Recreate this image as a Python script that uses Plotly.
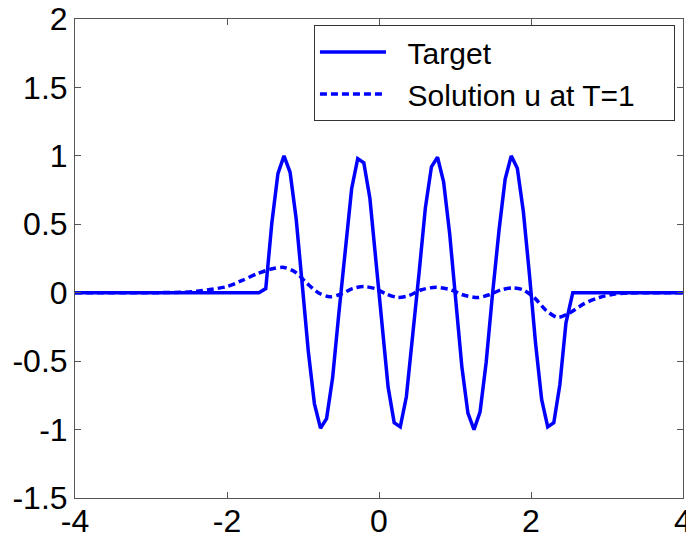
import plotly.graph_objects as go

target_x = [-4.0, -1.58, -1.49, -1.41, -1.33, -1.25, -1.17, -1.09, -1.01, -0.93, -0.85,
            -0.77, -0.69, -0.61, -0.53, -0.44, -0.36, -0.28, -0.20, -0.12, -0.04,
            0.04, 0.12, 0.20, 0.28, 0.36, 0.44, 0.53, 0.61, 0.69, 0.77, 0.85, 0.93,
            1.01, 1.09, 1.17, 1.25, 1.33, 1.41, 1.49, 1.58, 1.66, 1.74, 1.82, 1.90,
            1.98, 2.06, 2.14, 2.22, 2.30, 2.38, 2.46, 2.55, 4.0]
target_y = [0.0, 0.0, 0.03, 0.51, 0.87, 1.00, 0.88, 0.54, 0.06, -0.43, -0.81,
            -0.99, -0.92, -0.62, -0.16, 0.34, 0.76, 0.98, 0.95, 0.69, 0.25,
            -0.25, -0.69, -0.95, -0.98, -0.76, -0.34, 0.16, 0.62, 0.92, 0.99, 0.81, 0.43,
            -0.06, -0.54, -0.88, -1.00, -0.87, -0.51, -0.03, 0.46, 0.83, 1.00, 0.91, 0.59,
            0.13, -0.37, -0.78, -0.98, -0.95, -0.67, -0.22, 0.0, 0.0]

# Solution u at T=1
sol_x = [-4.0, -3.0, -2.6, -2.4, -2.2, -2.0, -1.8, -1.6, -1.4, -1.25, -1.1, -0.95,
         -0.8, -0.65, -0.5, -0.35, -0.2, -0.05, 0.1, 0.25, 0.4, 0.55, 0.75, 0.95,
         1.1, 1.3, 1.45, 1.6, 1.75, 1.9, 2.05, 2.2, 2.35, 2.5, 2.7, 2.9, 3.1, 3.3, 3.5, 4.0]
sol_y = [0.0, 0.0, 0.003, 0.01, 0.025, 0.045, 0.09, 0.14, 0.175, 0.185, 0.15, 0.07,
         0.0, -0.03, -0.01, 0.03, 0.045, 0.03, -0.01, -0.035, -0.02, 0.02, 0.04, 0.02,
         -0.015, -0.035, -0.015, 0.02, 0.035, 0.02, -0.04, -0.13, -0.18, -0.15, -0.08,
         -0.035, -0.01, -0.002, 0.0, 0.0]

x_ticks = [-4, -2, 0, 2, 4]
x_labels = ["-4", "-2", "0", "2", "4"]
y_ticks = [-1.5, -1, -0.5, 0, 0.5, 1, 1.5, 2]
y_labels = ["-1.5", "-1", "-0.5", "0", "0.5", "1", "1.5", "2"]

BLUE = "#0000FF"
FONT = "Liberation Sans, Arial, Helvetica, sans-serif"
AXC = "#555555"
NB = "\u00a0"

fig = go.Figure()
fig.add_trace(go.Scatter(x=target_x, y=target_y, mode="lines", name=NB * 2 + "Target",
                         line=dict(color=BLUE, width=3.5)))
fig.add_trace(go.Scatter(x=sol_x, y=sol_y, mode="lines",
                         name=NB * 2 + "Solution u at T=1" + NB * 4,
                         line=dict(color=BLUE, width=3.5, dash="7px,4px", shape="spline",
                                   smoothing=0.8)))

axis_common = dict(showgrid=False, zeroline=False, showline=True, linecolor=AXC,
                   linewidth=1, mirror="ticks", ticks="inside", ticklen=6,
                   tickcolor=AXC, automargin=False, ticklabeloverflow="allow",
                   tickfont=dict(family=FONT, size=32, color="black"))

fig.update_xaxes(range=[-4, 4], tickvals=x_ticks, ticktext=x_labels,
                 ticklabelstandoff=-5, **axis_common)
fig.update_yaxes(range=[-1.5, 2], tickvals=y_ticks, ticktext=y_labels, **axis_common)

# page has an 8px body margin, so the figure is 686x530 placed at (8, 8)
fig.update_layout(
    width=686, height=530,
    margin=dict(l=67, r=11, t=11, b=40),
    paper_bgcolor="white", plot_bgcolor="white",
    font=dict(family=FONT, size=32, color="black"),
    showlegend=True,
    legend=dict(x=0.393, y=0.9875, xanchor="left", yanchor="top",
                bgcolor="white", bordercolor="#333333", borderwidth=1,
                font=dict(family=FONT, size=30, color="black"),
                itemwidth=66, tracegroupgap=0),
)

fig.write_html("out.html")
